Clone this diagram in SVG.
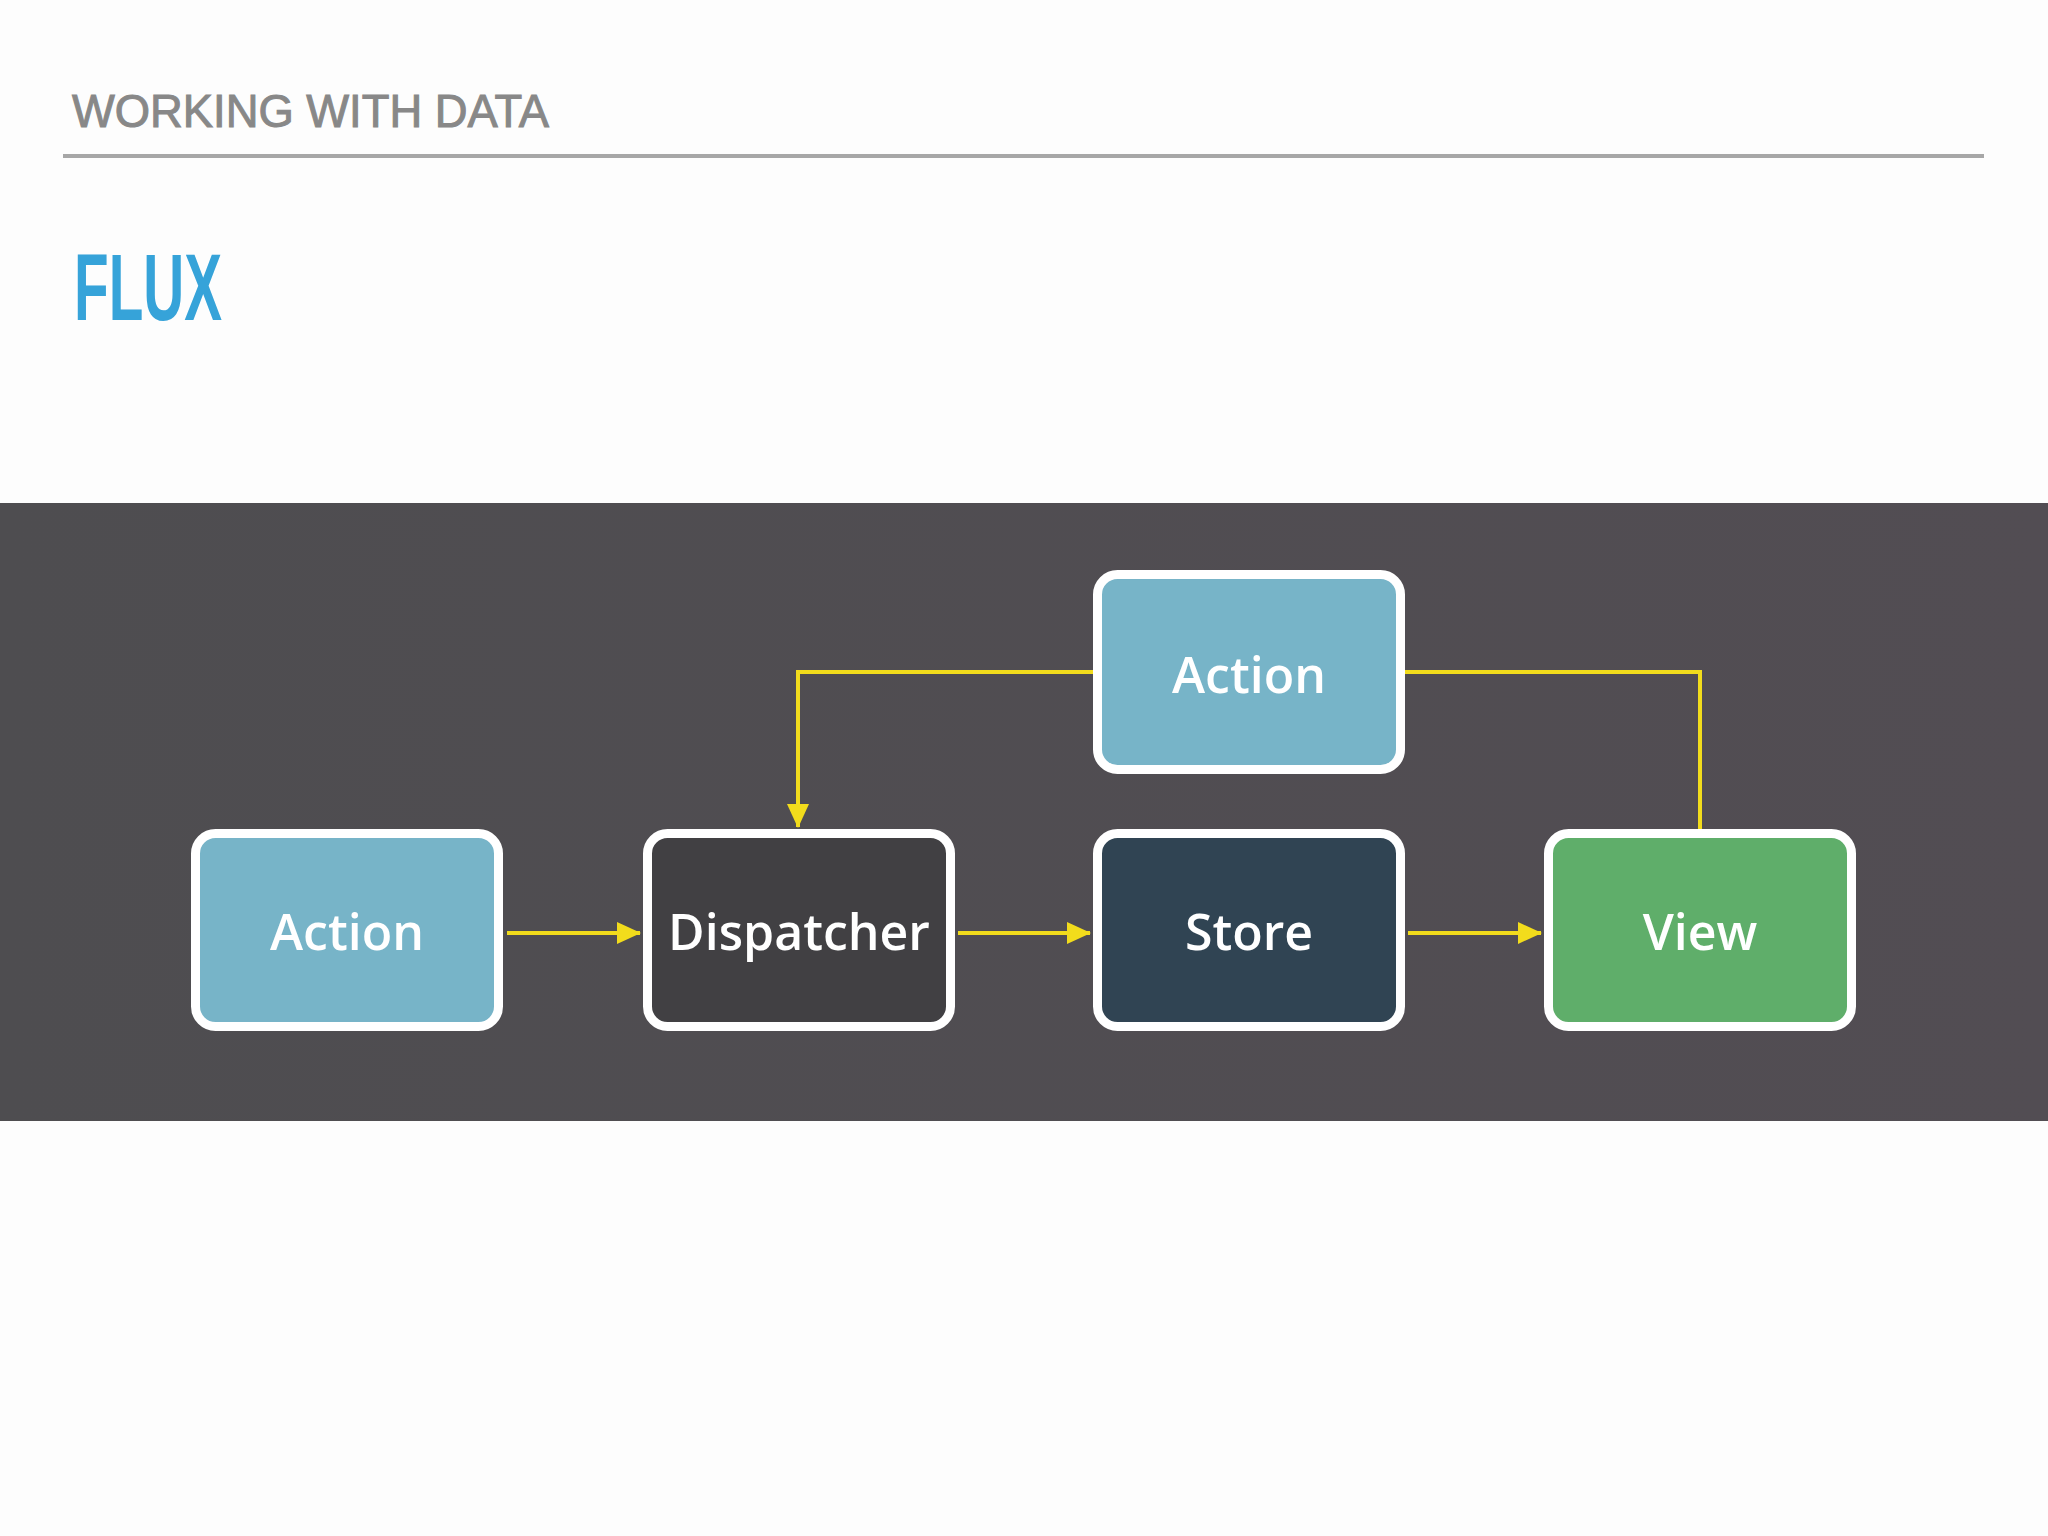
<svg xmlns="http://www.w3.org/2000/svg" width="2048" height="1536" viewBox="0 0 2048 1536">
  <defs>
    <style>
      .box { stroke: #ffffff; stroke-width: 9; }
      .lbl { font-family: "Open Sans", "Noto Sans", sans-serif; font-weight: 600; font-size: 50px; fill: #ffffff; text-anchor: middle; }
      .conn { fill: none; stroke: #f2dc1c; stroke-width: 4; }
    </style>
    <marker id="arr" markerUnits="userSpaceOnUse" markerWidth="24" markerHeight="24" viewBox="0 0 24 24" refX="23" refY="12" orient="auto">
      <path d="M0,1 L24,12 L0,23 Z" fill="#f2dc1c"/>
    </marker>
    <linearGradient id="band" x1="0" y1="0" x2="1" y2="0">
      <stop offset="0" stop-color="#4e4d50"/>
      <stop offset="1" stop-color="#524d53"/>
    </linearGradient>
  </defs>
  <rect width="2048" height="1536" fill="#fdfdfd"/>
  <text x="72" y="127" font-family="Liberation Sans, Arial, sans-serif" font-size="46" fill="#888888" stroke="#888888" stroke-width="1" textLength="477" lengthAdjust="spacingAndGlyphs">WORKING WITH DATA</text>
  <line x1="63" y1="156" x2="1984" y2="156" stroke="#a7a7a7" stroke-width="4"/>
  <text x="74" y="320" font-family="Liberation Sans, Arial, sans-serif" font-weight="bold" font-size="95" fill="#36a3d9" textLength="148" lengthAdjust="spacingAndGlyphs">FLUX</text>
  <rect x="0" y="503" width="2048" height="618" fill="url(#band)"/>
  <g id="connectors">
    <line class="conn" x1="507" y1="933" x2="640" y2="933" marker-end="url(#arr)"/>
    <line class="conn" x1="958" y1="933" x2="1090" y2="933" marker-end="url(#arr)"/>
    <line class="conn" x1="1408" y1="933" x2="1541" y2="933" marker-end="url(#arr)"/>
    <polyline class="conn" points="1093,672 798,672 798,827" marker-end="url(#arr)"/>
    <polyline class="conn" points="1405,672 1700,672 1700,829"/>
  </g>
  <g id="action-top">
    <rect class="box" x="1097.5" y="574.5" width="303" height="195" rx="20" fill="#77b4c8"/>
    <text class="lbl" x="1249" y="693">Action</text>
  </g>
  <g id="action">
    <rect class="box" x="195.5" y="833.5" width="303" height="193" rx="20" fill="#77b4c8"/>
    <text class="lbl" x="347" y="950">Action</text>
  </g>
  <g id="dispatcher">
    <rect class="box" x="647.5" y="833.5" width="303" height="193" rx="20" fill="#414043"/>
    <text class="lbl" x="799" y="950">Dispatcher</text>
  </g>
  <g id="store">
    <rect class="box" x="1097.5" y="833.5" width="303" height="193" rx="20" fill="#304453"/>
    <text class="lbl" x="1249" y="950">Store</text>
  </g>
  <g id="view">
    <rect class="box" x="1548.5" y="833.5" width="303" height="193" rx="20" fill="#5fae6a"/>
    <text class="lbl" x="1700" y="950">View</text>
  </g>
</svg>
